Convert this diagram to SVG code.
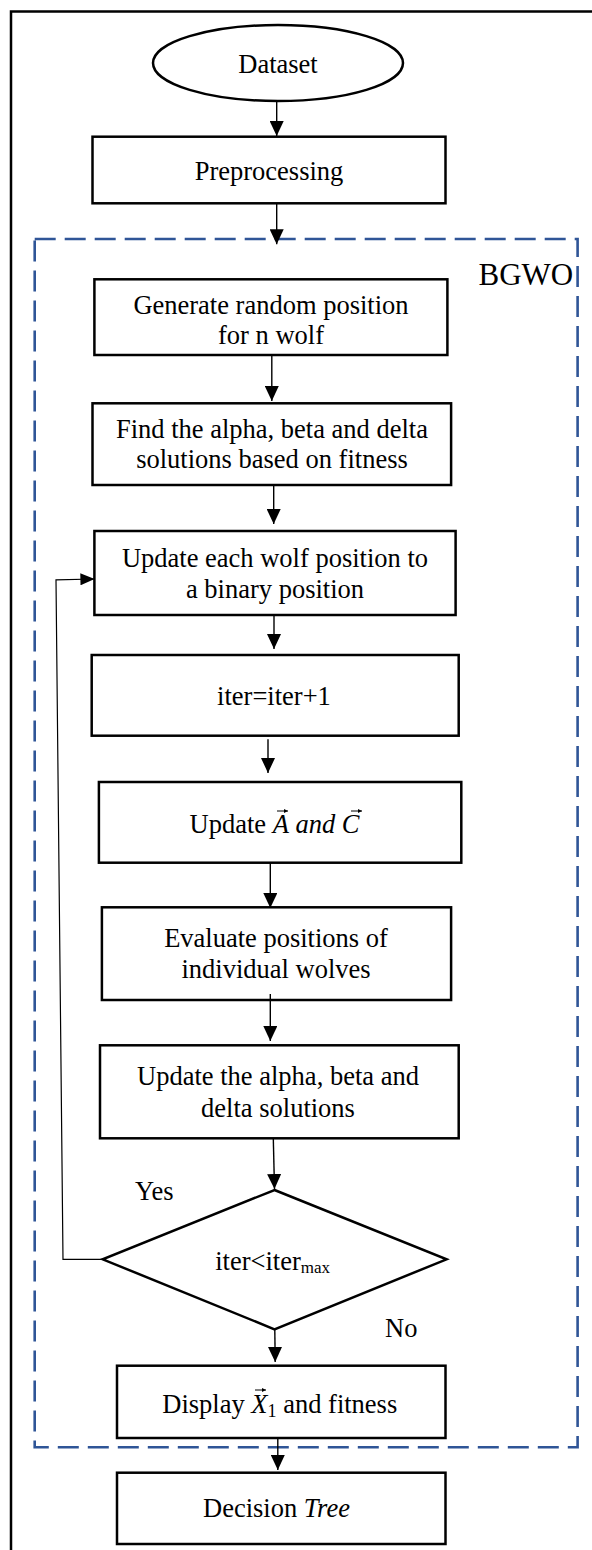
<svg xmlns="http://www.w3.org/2000/svg" width="592" height="1550" viewBox="0 0 592 1550">
<style>
  .box { fill: #fff; stroke: #000; stroke-width: 2.5; }
  .t { font-family: "Liberation Serif", "Times New Roman", serif; font-size: 26.5px; fill: #000; }
  .c { text-anchor: middle; }
  .m { font-style: italic; }
  .conn { stroke: #000; stroke-width: 1.4; fill: none; }
  .vec { stroke: #000; stroke-width: 1; fill: none; }
</style>
<defs>
  <marker id="ah" viewBox="0 0 15 14" refX="15" refY="7" markerWidth="15" markerHeight="14" orient="auto" markerUnits="userSpaceOnUse">
    <path d="M0,0 L15,7 L0,14 z" fill="#000"/>
  </marker>
  <marker id="ahs" viewBox="0 0 14 12" refX="14" refY="6" markerWidth="14" markerHeight="12" orient="auto" markerUnits="userSpaceOnUse">
    <path d="M0,0 L14,6 L0,12 z" fill="#000"/>
  </marker>
  <marker id="va" viewBox="0 0 4 4" refX="4" refY="2" markerWidth="4" markerHeight="4" orient="auto" markerUnits="userSpaceOnUse">
    <path d="M0,0 L4,2 L0,4 z" fill="#000"/>
  </marker>
</defs>

<rect id="frame" x="11" y="11.5" width="600" height="1560" fill="none" stroke="#000" stroke-width="2.5"/>

<g id="bgwo">
  <rect x="34.7" y="239" width="542.9" height="1208.3" fill="none" stroke="#2f5597" stroke-width="2.6" stroke-dasharray="21 9"/>
  <text class="t" x="478.5" y="285" style="font-size:31px">BGWO</text>
</g>

<g id="dataset">
  <ellipse cx="278" cy="63" rx="125" ry="38" class="box"/>
  <text class="t c" x="278" y="72.7">Dataset</text>
</g>

<g id="preprocessing">
  <rect class="box" x="92.5" y="136.7" width="353" height="66.6"/>
  <text class="t c" x="269" y="180">Preprocessing</text>
</g>

<g id="generate">
  <rect class="box" x="94.4" y="279.3" width="353" height="75.7"/>
  <text class="t c" x="271" y="314">Generate random position</text>
  <text class="t c" x="271" y="344">for n wolf</text>
</g>

<g id="find">
  <rect class="box" x="92.5" y="403.3" width="358.6" height="81.7"/>
  <text class="t c" x="272" y="438.3">Find the alpha, beta and delta</text>
  <text class="t c" x="272" y="468.3">solutions based on fitness</text>
</g>

<g id="binary">
  <rect class="box" x="94.4" y="531" width="361.2" height="84"/>
  <text class="t c" x="275" y="566.7">Update each wolf position to</text>
  <text class="t c" x="275" y="598">a binary position</text>
</g>

<g id="iter">
  <rect class="box" x="91.7" y="655" width="367" height="80.7"/>
  <text class="t c" x="274" y="705">iter=iter+1</text>
</g>

<g id="updateAC">
  <rect class="box" x="98.9" y="782" width="362.4" height="80.7"/>
  <text class="t" x="189.5" y="833.3">Update <tspan class="m">A</tspan> <tspan class="m">and</tspan> <tspan class="m">C</tspan></text>
  <line class="vec" x1="277" y1="811" x2="288" y2="811" marker-end="url(#va)"/>
  <line class="vec" x1="351" y1="811" x2="362" y2="811" marker-end="url(#va)"/>
</g>

<g id="evaluate">
  <rect class="box" x="101.9" y="907.3" width="349.2" height="92.7"/>
  <text class="t c" x="276" y="946.7">Evaluate positions of</text>
  <text class="t c" x="276" y="978.3">individual wolves</text>
</g>

<g id="updateabd">
  <rect class="box" x="100" y="1045.3" width="358.7" height="93"/>
  <text class="t c" x="278" y="1085">Update the alpha, beta and</text>
  <text class="t c" x="278" y="1116.7">delta solutions</text>
</g>

<g id="decision">
  <polygon class="box" points="274.5,1190 446.6,1259.3 274.5,1329.3 102.7,1259.3"/>
  <text class="t" x="215.2" y="1270">iter&lt;iter<tspan style="font-size:17px" dy="3">max</tspan></text>
  <text class="t" x="135" y="1200">Yes</text>
  <text class="t" x="385" y="1336.7">No</text>
</g>

<g id="display">
  <rect class="box" x="117" y="1365.7" width="328.5" height="72.3"/>
  <text class="t" x="162.3" y="1413.3">Display <tspan class="m">X</tspan><tspan style="font-size:18px" dy="4">1</tspan><tspan dy="-4"> and fitness</tspan></text>
  <line class="vec" x1="255" y1="1390" x2="266" y2="1390" marker-end="url(#va)"/>
</g>

<g id="tree">
  <rect class="box" x="117" y="1472.7" width="328.5" height="71.3"/>
  <text class="t" x="203" y="1517.3">Decision <tspan class="m">Tree</tspan></text>
</g>

<g id="connectors">
  <line class="conn" x1="276.7" y1="101" x2="276.7" y2="136" marker-end="url(#ah)"/>
  <line class="conn" x1="276.7" y1="203.3" x2="276.7" y2="244.3" marker-end="url(#ah)"/>
  <line class="conn" x1="271.8" y1="355" x2="271.8" y2="401" marker-end="url(#ah)"/>
  <line class="conn" x1="273.7" y1="485" x2="273.7" y2="524" marker-end="url(#ah)"/>
  <line class="conn" x1="274" y1="615" x2="274" y2="649" marker-end="url(#ah)"/>
  <line class="conn" x1="268" y1="739.3" x2="268" y2="773" marker-end="url(#ah)"/>
  <line class="conn" x1="270.3" y1="862.7" x2="270.3" y2="908" marker-end="url(#ah)"/>
  <line class="conn" x1="270.3" y1="994" x2="270.3" y2="1041" marker-end="url(#ah)"/>
  <line class="conn" x1="273.3" y1="1138.3" x2="274.5" y2="1189" marker-end="url(#ah)"/>
  <line class="conn" x1="274.8" y1="1329.3" x2="275.2" y2="1362" marker-end="url(#ah)"/>
  <line class="conn" x1="277.8" y1="1438" x2="277.8" y2="1470" marker-end="url(#ah)"/>
  <polyline class="conn" style="stroke-width:1.2" points="102.7,1259.3 63,1259.3 56,579.8 94.4,579" marker-end="url(#ahs)"/>
</g>
</svg>
